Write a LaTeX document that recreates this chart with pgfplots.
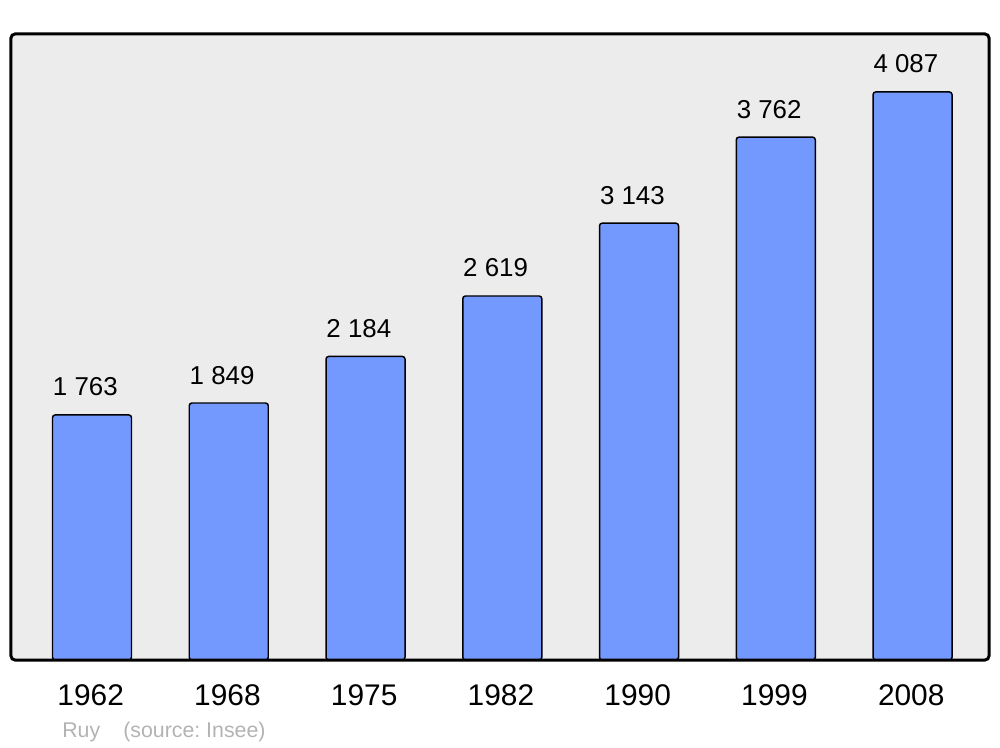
\documentclass[border=0pt]{standalone}
\usepackage{pgfplots}
\pgfplotsset{compat=1.18}
\usepackage{fontspec}
\setmainfont{Liberation Sans}
\definecolor{barblue}{HTML}{7399FF}
\definecolor{bggray}{HTML}{ECECEC}
\definecolor{srcgray}{HTML}{B3B3B3}
\frenchspacing
\begin{document}
\begin{tikzpicture}[x=1pt,y=1pt]
\useasboundingbox (0,0) rectangle (750,560.25);
\begin{axis}[
  at={(8.25pt,65.25pt)}, anchor=south west,
  scale only axis, width=733.5pt, height=469.5pt,
  xmin=-0.5923, xmax=6.559, ymin=0, ymax=4504,
  axis background/.style={fill=bggray, rounded corners=3pt},
  axis line style={draw=none},
  ytick=\empty,
  xtick={0,...,6},
  xticklabels={1962,1968,1975,1982,1990,1999,2008},
  major tick length=0pt,
  xticklabel style={anchor=base, inner sep=0pt, yshift=-33.75pt, xshift=-1pt,
    font=\fontsize{22.4}{26}\selectfont},
  ybar, bar width=59.25pt,
  nodes near coords, point meta=explicit symbolic,
  every node near coord/.append style={anchor=base, inner sep=0pt,
    yshift=14.25pt, xshift=-5pt, font=\fontsize{19.4}{23}\selectfont, text=black},
  clip=false,
]
\addplot[fill=barblue, draw=black, line width=1.1pt, rounded corners=2pt]
  coordinates {
    (0,1763) [1 763]
    (1,1849) [1 849]
    (2,2184) [2 184]
    (3,2619) [2 619]
    (4,3143) [3 143]
    (5,3762) [3 762]
    (6,4087) [4 087]
  };
\draw[line width=2.25pt, rounded corners=3pt]
  (rel axis cs:0,0) rectangle (rel axis cs:1,1);
\end{axis}
\node[anchor=base west, inner sep=0pt, text=srcgray,
  font=\fontsize{16}{19}\selectfont] at (46.5,7.5) {Ruy};
\node[anchor=base west, inner sep=0pt, text=srcgray,
  font=\fontsize{16}{19}\selectfont] at (92.25,7.5) {(source: Insee)};
\end{tikzpicture}
\end{document}
